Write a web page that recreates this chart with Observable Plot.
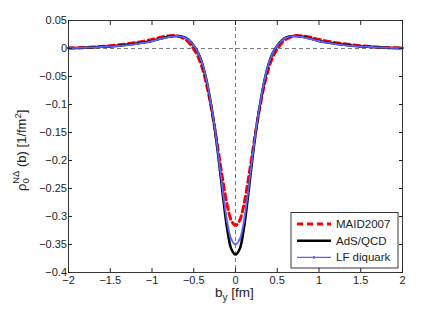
<!DOCTYPE html>
<html><head><meta charset="utf-8">
<script src="https://cdn.jsdelivr.net/npm/d3@7"></script>
<script src="https://cdn.jsdelivr.net/npm/@observablehq/plot@0.6"></script>
<style>body{margin:0;background:#fff;}</style>
</head><body><div id="chart"></div>
<script>
const bx = [-2, -1.8, -1.6, -1.4, -1.2, -1, -0.9, -0.8, -0.7, -0.6, -0.55, -0.5, -0.45, -0.4, -0.35, -0.3, -0.25, -0.2, -0.15, -0.1, -0.05, 0,
            0.05, 0.1, 0.15, 0.2, 0.25, 0.3, 0.35, 0.4, 0.45, 0.5, 0.55, 0.6, 0.7, 0.8, 0.9, 1, 1.2, 1.4, 1.6, 1.8, 2];
const maid = [0.0008, 0.0018, 0.0035, 0.0065, 0.0105, 0.016, 0.020, 0.0225, 0.0225, 0.016, 0.009, -0.001, -0.014, -0.034, -0.062, -0.098, -0.141, -0.189, -0.237, -0.279, -0.307, -0.316,
              -0.307, -0.279, -0.237, -0.189, -0.141, -0.098, -0.062, -0.034, -0.014, -0.001, 0.009, 0.016, 0.0225, 0.0225, 0.020, 0.016, 0.0105, 0.0065, 0.0035, 0.0018, 0.0008];
const ads = [0.0008, 0.0015, 0.003, 0.005, 0.0085, 0.0135, 0.0175, 0.021, 0.0225, 0.0195, 0.014, 0.005, -0.007, -0.026, -0.055, -0.094, -0.141, -0.200, -0.264, -0.322, -0.358, -0.368,
             -0.358, -0.322, -0.264, -0.200, -0.141, -0.094, -0.055, -0.026, -0.007, 0.005, 0.014, 0.0195, 0.0225, 0.021, 0.0175, 0.0135, 0.0085, 0.005, 0.003, 0.0015, 0.0008];
const lf = [0.0008, 0.0015, 0.0028, 0.0048, 0.008, 0.013, 0.017, 0.0205, 0.022, 0.019, 0.0135, 0.005, -0.007, -0.026, -0.054, -0.093, -0.140, -0.197, -0.257, -0.309, -0.341, -0.350,
            -0.341, -0.309, -0.257, -0.197, -0.140, -0.093, -0.054, -0.026, -0.007, 0.005, 0.0135, 0.019, 0.022, 0.0205, 0.017, 0.013, 0.008, 0.0048, 0.0028, 0.0015, 0.0008];
const seriesNames = ["MAID2007", "AdS/QCD", "LF diquark"];
const xTicks = [-2, -1.5, -1, -0.5, 0, 0.5, 1, 1.5, 2];
const yTicks = [0.05, 0, -0.05, -0.1, -0.15, -0.2, -0.25, -0.3, -0.35, -0.4];

const fmt = d => d < 0 ? "\u2212" + String(Math.abs(d)) : String(d);
const rows = s => bx.map((x, i) => ({x, y: s[i]}));
const dMaid = rows(maid), dAds = rows(ads), dLf = rows(lf);
const font = "Liberation Sans, Arial, Helvetica, sans-serif";
const ink = "#222";
const blue = "#6060ff";

const plot = Plot.plot({
  width: 431, height: 310,
  marginLeft: 68, marginRight: 29, marginTop: 20, marginBottom: 38,
  style: {fontFamily: font, fontSize: "11px", color: ink, background: "#fff", overflow: "visible"},
  x: {domain: [-2, 2]},
  y: {domain: [-0.4, 0.05]},
  marks: [
    Plot.ruleY([0], {stroke: "#555", strokeWidth: 0.8, strokeDasharray: "4,3"}),
    Plot.ruleX([0], {stroke: "#555", strokeWidth: 0.8, strokeDasharray: "4,3"}),
    Plot.line(dMaid, {x: "x", y: "y", stroke: "#ff0000", strokeWidth: 3, strokeDasharray: "6,4", curve: "catmull-rom"}),
    Plot.line(dAds, {x: "x", y: "y", stroke: "#000", strokeWidth: 2.5, curve: "catmull-rom"}),
    Plot.line(dLf, {x: "x", y: "y", stroke: blue, strokeWidth: 1.8, curve: "catmull-rom"}),
    Plot.dot(dLf, {x: "x", y: "y", r: 1.1, fill: blue, stroke: null}),
    Plot.frame({stroke: ink, strokeWidth: 0.9}),
    Plot.axisX({ticks: xTicks, tickSize: 0, tickPadding: 4, tickFormat: fmt, label: null, fontSize: 11}),
    Plot.axisX({ticks: xTicks, tickSize: -4, tickFormat: () => "", label: null, stroke: ink}),
    Plot.axisX({anchor: "top", ticks: xTicks, tickSize: -4, tickFormat: () => "", label: null, stroke: ink}),
    Plot.axisY({ticks: yTicks, tickSize: 0, tickPadding: 1.5, tickFormat: fmt, label: null, fontSize: 11}),
    Plot.axisY({ticks: yTicks, tickSize: -4, tickFormat: () => "", label: null, stroke: ink}),
    Plot.axisY({anchor: "right", ticks: yTicks, tickSize: -4, tickFormat: () => "", label: null, stroke: ink})
  ]
});
document.getElementById("chart").appendChild(plot);

const svg = d3.select(plot);
// y label (reads bottom-to-top, starting near y=190)
const yl = svg.append("text")
  .attr("transform", "translate(26,191) rotate(-90)")
  .attr("text-anchor", "start")
  .attr("font-family", font).attr("font-size", 13).attr("fill", ink);
yl.append("tspan").text("\u03c1");
yl.append("tspan").attr("font-size", 9.5).attr("dy", 3).text("0");
yl.append("tspan").attr("font-size", 9.5).attr("dx", -5.5).attr("dy", -10).text("N\u0394");
yl.append("tspan").attr("dy", 7).text(" (b) [1/fm");
yl.append("tspan").attr("font-size", 9.5).attr("dy", -5).text("2");
yl.append("tspan").attr("dy", 5).text("]");
// x label
const xl = svg.append("text")
  .attr("x", 215).attr("y", 297).attr("text-anchor", "start")
  .attr("font-family", font).attr("font-size", 13.5).attr("fill", ink);
xl.append("tspan").text("b");
xl.append("tspan").attr("font-size", 10).attr("dy", 4).text("y");
xl.append("tspan").attr("dy", -4).text(" [fm]");
// legend
const lg = svg.append("g");
lg.append("rect").attr("x", 291).attr("y", 212.5).attr("width", 107).attr("height", 55.5)
  .attr("fill", "#fff").attr("stroke", ink).attr("stroke-width", 0.9);
const styles = [
  {stroke: "#ff0000", w: 3, dash: "6,4"},
  {stroke: "#000", w: 2.5, dash: null},
  {stroke: blue, w: 1.2, dash: null}
];
seriesNames.forEach((name, i) => {
  const yy = 224 + i * 16.7;
  lg.append("line").attr("x1", 297).attr("x2", 331).attr("y1", yy).attr("y2", yy)
    .attr("stroke", styles[i].stroke).attr("stroke-width", styles[i].w)
    .attr("stroke-dasharray", styles[i].dash);
  if (i === 2) lg.append("circle").attr("cx", 314).attr("cy", yy).attr("r", 1.3).attr("fill", blue);
  lg.append("text").attr("x", 336).attr("y", yy).attr("dy", "0.35em").attr("text-anchor", "start")
    .attr("font-family", font).attr("font-size", 11.5).attr("fill", ink).text(name);
});
</script></body></html>
